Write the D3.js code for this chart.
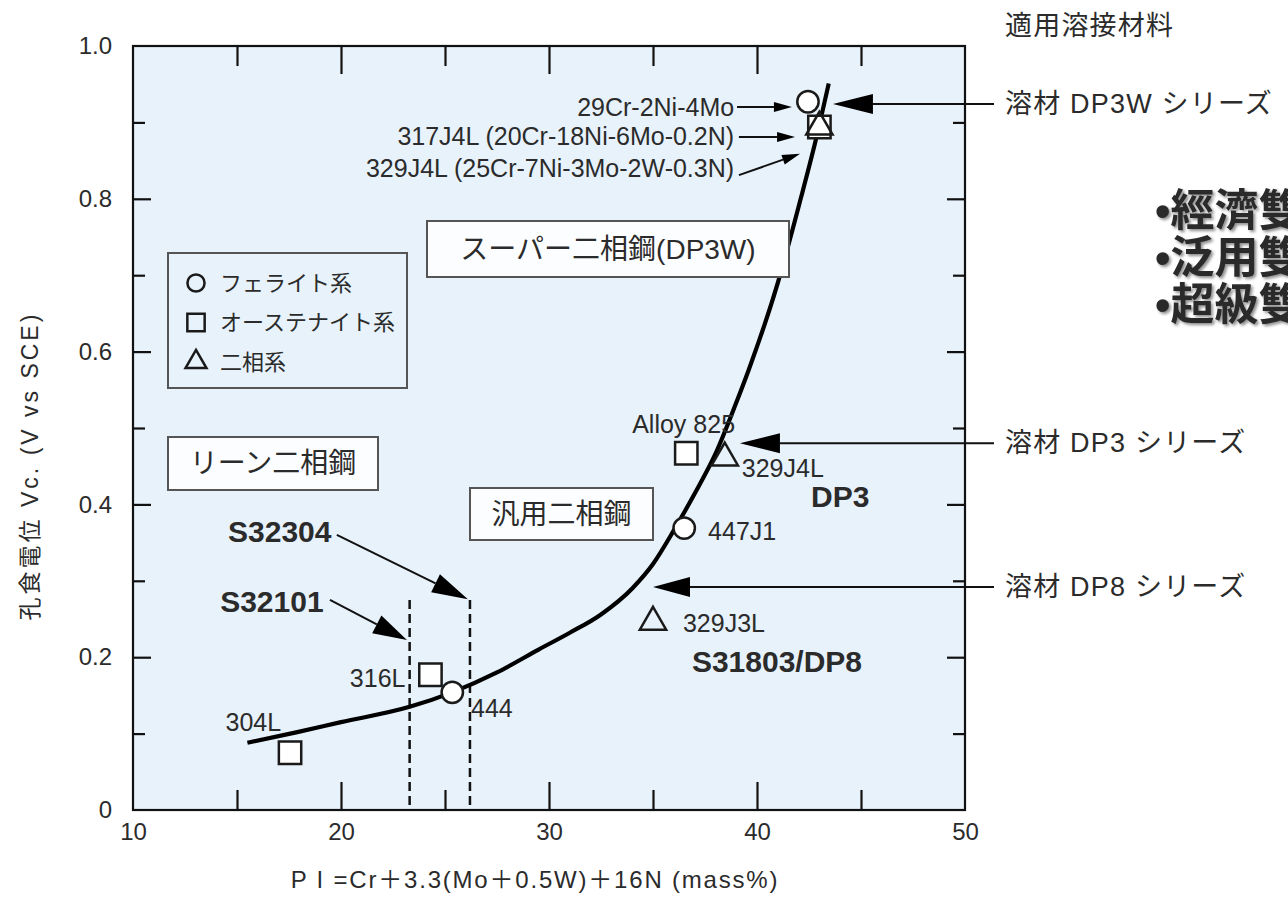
<!DOCTYPE html>
<html>
<head>
<meta charset="utf-8">
<script src="https://cdn.jsdelivr.net/npm/d3@7"></script>
<style>
  html, body { margin: 0; padding: 0; background: #fff; }
  svg { display: block; }
  text { font-family: "Liberation Sans", "Noto Sans CJK JP", sans-serif; fill: #2b2b2b; }
</style>
</head>
<body>
<div id="chart"></div>
<script>
// ---- DATA ----
// pitting potential curve (PI vs Vc)
const CURVE_PI = [15.5, 17.9, 20, 23.3, 25.35, 27.5, 29.5, 31, 32.5, 34, 35, 36, 37, 38, 39, 39.6, 41.0, 42.1, 42.8, 43.45];
const CURVE_VC = [0.088, 0.102, 0.115, 0.135, 0.154, 0.18, 0.21, 0.232, 0.256, 0.29, 0.322, 0.366, 0.414, 0.466, 0.533, 0.576, 0.69, 0.8, 0.874, 0.951];

// steel grades
const STEEL_NAMES = ["304L", "316L", "444", "Alloy 825", "329J4L", "447J1", "329J3L", "29Cr-2Ni-4Mo", "317J4L", "329J4L-W"];
const STEEL_TYPES = ["austenite", "austenite", "ferrite", "austenite", "duplex", "ferrite", "duplex", "ferrite", "austenite", "duplex"];
const STEEL_PI    = [17.55, 24.3, 25.35, 36.6, 38.45, 36.5, 35.0, 42.45, 43.0, 43.0];
const STEEL_VC    = [0.075, 0.177, 0.154, 0.467, 0.461, 0.369, 0.246, 0.927, 0.894, 0.894];

const LEGEND_LABELS = ["フェライト系", "オーステナイト系", "二相系"];
const LEGEND_TYPES = ["ferrite", "austenite", "duplex"];

const X_LABELS = [10, 20, 30, 40, 50];
const X_MAJOR = [20, 30, 40];
const X_MINOR = [15, 25, 35, 45];
const Y_LABELS = [0, 0.2, 0.4, 0.6, 0.8, 1.0];
const Y_MAJOR = [0.2, 0.4, 0.6, 0.8];
const Y_MINOR = [0.1, 0.3, 0.5, 0.7, 0.9];

// lean duplex PI limits
const LEAN_PI = [23.3, 26.2];
const LEAN_TOP = 0.275;

const BULLETS = ["•經濟雙相鋼", "•泛用雙相鋼", "•超級雙相鋼"];

// ---- LAYOUT ----
const W = 1288, H = 902;
const MARGIN = { top: 46, left: 133 };
const PW = 832, PH = 764;

const svg = d3.select("#chart")
    .append("svg")
        .attr("width", W)
        .attr("height", H);

const defs = svg.append("defs");
const shadow = defs.append("filter").attr("id", "shadow")
    .attr("x", "-10%").attr("y", "-10%").attr("width", "130%").attr("height", "130%");
shadow.append("feDropShadow")
    .attr("dx", 2).attr("dy", 2).attr("stdDeviation", 1.5)
    .attr("flood-color", "#000").attr("flood-opacity", 0.45);

const g = svg.append("g")
    .attr("transform", `translate(${MARGIN.left}, ${MARGIN.top})`);

const x = d3.scaleLinear().domain([10, 50]).range([0, PW]);
const y = d3.scaleLinear().domain([0, 1.0]).range([PH, 0]);

// plot background
g.append("rect")
    .attr("width", PW).attr("height", PH)
    .attr("fill", "#e8f2fb");

// ---- AXES ----
function ticks(axis, values, size, transform) {
    const a = g.append("g")
        .attr("transform", transform || null)
        .call(axis.tickValues(values).tickSize(-size).tickFormat(""));
    a.select(".domain").remove();
    a.selectAll("line").attr("stroke", "#111").attr("stroke-width", 2.2);
}
ticks(d3.axisBottom(x), X_MAJOR, 28, `translate(0, ${PH})`);
ticks(d3.axisBottom(x), X_MINOR, 20, `translate(0, ${PH})`);
ticks(d3.axisTop(x), X_MAJOR, 28);
ticks(d3.axisTop(x), X_MINOR, 20);
ticks(d3.axisLeft(y), Y_MAJOR, 18);
ticks(d3.axisLeft(y), Y_MINOR, 12);
ticks(d3.axisRight(y), Y_MAJOR, 18, `translate(${PW}, 0)`);
ticks(d3.axisRight(y), Y_MINOR, 12, `translate(${PW}, 0)`);

const xLab = g.append("g")
    .attr("transform", `translate(0, ${PH})`)
    .call(d3.axisBottom(x).tickValues(X_LABELS).tickSize(0).tickPadding(13));
xLab.select(".domain").remove();
xLab.selectAll("text").attr("font-size", 24).attr("fill", "#2b2b2b")
    .attr("font-family", "Liberation Sans");

const yLab = g.append("g")
    .call(d3.axisLeft(y).tickValues(Y_LABELS).tickSize(0).tickPadding(21)
        .tickFormat(d => d === 0 ? "0" : d3.format(".1f")(d)));
yLab.select(".domain").remove();
yLab.selectAll("text").attr("font-size", 24).attr("fill", "#2b2b2b")
    .attr("font-family", "Liberation Sans");

// frame
g.append("rect")
    .attr("width", PW).attr("height", PH)
    .attr("fill", "none").attr("stroke", "#111").attr("stroke-width", 2.2);

// axis titles
svg.append("text")
    .attr("x", 535).attr("y", 888)
    .attr("text-anchor", "middle")
    .attr("font-size", 24)
    .attr("letter-spacing", 1.8)
    .text("P I =Cr＋3.3(Mo＋0.5W)＋16N  (mass%)");

svg.append("text")
    .attr("transform", "translate(38, 466) rotate(-90)")
    .attr("text-anchor", "middle")
    .attr("font-size", 23)
    .attr("letter-spacing", 3)
    .attr("fill", "#444")
    .text("孔食電位  Vc. (V vs SCE)");

// ---- DASHED PI LIMITS ----
g.selectAll(".lean")
    .data(LEAN_PI)
    .enter().append("line")
        .attr("x1", d => x(d)).attr("x2", d => x(d))
        .attr("y1", y(LEAN_TOP)).attr("y2", y(0))
        .attr("stroke", "#111").attr("stroke-width", 2.5)
        .attr("stroke-dasharray", "9,5");

// ---- CURVE ----
const line = d3.line()
    .x(i => x(CURVE_PI[i]))
    .y(i => y(CURVE_VC[i]))
    .curve(d3.curveMonotoneX);
g.append("path")
    .attr("d", line(d3.range(CURVE_PI.length)))
    .attr("fill", "none")
    .attr("stroke", "#000")
    .attr("stroke-width", 4.2);

// ---- ARROWS ----
function arrow(x1, y1, x2, y2, len, half, w) {
    const a = Math.atan2(y2 - y1, x2 - x1);
    const bx = x2 - len * Math.cos(a), by = y2 - len * Math.sin(a);
    g.append("line")
        .attr("x1", x1).attr("y1", y1).attr("x2", bx).attr("y2", by)
        .attr("stroke", "#111").attr("stroke-width", w);
    g.append("path")
        .attr("d", `M${x2},${y2}L${bx + half * Math.sin(a)},${by - half * Math.cos(a)}L${bx - half * Math.sin(a)},${by + half * Math.cos(a)}Z`)
        .attr("fill", "#000");
}
// welding materials (from right, outside the frame)
const OUT_X = 994 - MARGIN.left; // line end beyond frame
arrow(OUT_X, y(0.924), x(43.65), y(0.924), 40, 10, 2);
arrow(OUT_X, y(0.48), x(39.18), y(0.48), 40, 10, 2);
arrow(OUT_X, y(0.292), x(35.0), y(0.292), 37, 10, 2);
// top labels
arrow(x(39.04), y(0.92), x(41.68), y(0.92), 18, 5, 2);
arrow(x(39.13), y(0.881), x(41.83), y(0.881), 18, 5, 2);
arrow(x(39.13), y(0.831), x(42.07), y(0.859), 18, 5, 2);
// lean duplex grades
arrow(x(19.8), y(0.36), x(26.1), y(0.276), 36, 10, 2);
arrow(x(19.47), y(0.275), x(23.17), y(0.2225), 34, 10, 2);

// ---- MARKERS ----
const SYMBOLS = { ferrite: d3.symbolCircle, austenite: d3.symbolSquare, duplex: d3.symbolTriangle };
const AREAS = { ferrite: 360, austenite: 500, duplex: 300 };
g.selectAll(".steel")
    .data(d3.range(STEEL_NAMES.length))
    .enter().append("path")
        .attr("transform", i => `translate(${x(STEEL_PI[i])}, ${y(STEEL_VC[i])})`)
        .attr("d", i => d3.symbol().type(SYMBOLS[STEEL_TYPES[i]]).size(AREAS[STEEL_TYPES[i]])())
        .attr("fill", i => STEEL_TYPES[i] === "duplex" ? "none" : "#fff")
        .attr("stroke", "#1a1a1a")
        .attr("stroke-width", 2.5);

// marker labels
const LABELS = [
    { t: "304L",      px: 14.45, vc: 0.104, a: "start" },
    { t: "316L",      px: 23.1,  vc: 0.161, a: "end" },
    { t: "444",       px: 26.25, vc: 0.122, a: "start" },
    { t: "Alloy 825", px: 34.0,  vc: 0.494, a: "start" },
    { t: "329J4L",    px: 39.27, vc: 0.436, a: "start" },
    { t: "447J1",     px: 37.65, vc: 0.354, a: "start" },
    { t: "329J3L",    px: 36.44, vc: 0.233, a: "start" },
    { t: "29Cr-2Ni-4Mo",                 px: 38.9, vc: 0.908, a: "end" },
    { t: "317J4L (20Cr-18Ni-6Mo-0.2N)",  px: 38.9, vc: 0.870, a: "end" },
    { t: "329J4L (25Cr-7Ni-3Mo-2W-0.3N)", px: 38.9, vc: 0.828, a: "end" }
];
g.selectAll(".lbl")
    .data(LABELS)
    .enter().append("text")
        .attr("x", d => x(d.px)).attr("y", d => y(d.vc))
        .attr("text-anchor", d => d.a)
        .attr("font-size", 25)
        .attr("fill", "#333")
        .text(d => d.t);

const BOLD = [
    { t: "DP3",        px: 42.6,  vc: 0.397 },
    { t: "S31803/DP8", px: 36.87, vc: 0.181 },
    { t: "S32304",     px: 14.57, vc: 0.351 },
    { t: "S32101",     px: 14.19, vc: 0.259 }
];
g.selectAll(".bold")
    .data(BOLD)
    .enter().append("text")
        .attr("x", d => x(d.px)).attr("y", d => y(d.vc))
        .attr("font-size", 30)
        .attr("font-weight", "bold")
        .attr("fill", "#111")
        .text(d => d.t);

// ---- CLASS BOXES ----
const BOXES = [
    { t: "スーパー二相鋼(DP3W)", x0: 427, y0: 221, x1: 789, y1: 277 },
    { t: "リーン二相鋼",          x0: 168, y0: 437, x1: 378, y1: 490 },
    { t: "汎用二相鋼",            x0: 470, y0: 488, x1: 653, y1: 540 }
];
BOXES.forEach(b => {
    svg.append("rect")
        .attr("x", b.x0).attr("y", b.y0)
        .attr("width", b.x1 - b.x0).attr("height", b.y1 - b.y0)
        .attr("fill", "#fbfdff").attr("stroke", "#555").attr("stroke-width", 2);
    svg.append("text")
        .attr("x", (b.x0 + b.x1) / 2).attr("y", (b.y0 + b.y1) / 2)
        .attr("text-anchor", "middle").attr("dominant-baseline", "central")
        .attr("font-size", 28).attr("fill", "#333")
        .text(b.t);
});

// ---- LEGEND ----
svg.append("rect")
    .attr("x", 168).attr("y", 253).attr("width", 239).attr("height", 135)
    .attr("fill", "none").attr("stroke", "#555").attr("stroke-width", 2);
const LEG_AREAS = { ferrite: 230, austenite: 300, duplex: 190 };
LEGEND_LABELS.forEach((lab, i) => {
    const ly = 283 + i * 39.5;
    svg.append("path")
        .attr("transform", `translate(196, ${ly})`)
        .attr("d", d3.symbol().type(SYMBOLS[LEGEND_TYPES[i]]).size(LEG_AREAS[LEGEND_TYPES[i]])())
        .attr("fill", "none").attr("stroke", "#1a1a1a").attr("stroke-width", 2.5);
    svg.append("text")
        .attr("x", 220).attr("y", ly)
        .attr("dominant-baseline", "central")
        .attr("font-size", 22).attr("fill", "#333")
        .text(lab);
});

// ---- RIGHT SIDE ----
const RIGHT_LABELS = [
    { t: "適用溶接材料",       vy: null },
    { t: "溶材 DP3W シリーズ", vy: 0.924 },
    { t: "溶材 DP3 シリーズ",  vy: 0.48 },
    { t: "溶材 DP8 シリーズ",  vy: 0.292 }
];
RIGHT_LABELS.forEach(r => {
    svg.append("text")
        .attr("x", 1005)
        .attr("y", r.vy === null ? 26 : MARGIN.top + y(r.vy))
        .attr("dominant-baseline", "central")
        .attr("font-size", 27).attr("letter-spacing", 1.2).attr("fill", "#333")
        .text(r.t);
});

BULLETS.forEach((b, i) => {
    svg.append("text")
        .attr("x", 1155).attr("y", 226 + i * 47)
        .attr("font-family", "Noto Sans CJK TC")
        .attr("font-size", 44).attr("font-weight", "bold")
        .attr("fill", "#000")
        .attr("filter", "url(#shadow)")
        .text(b);
});
</script>
</body>
</html>
